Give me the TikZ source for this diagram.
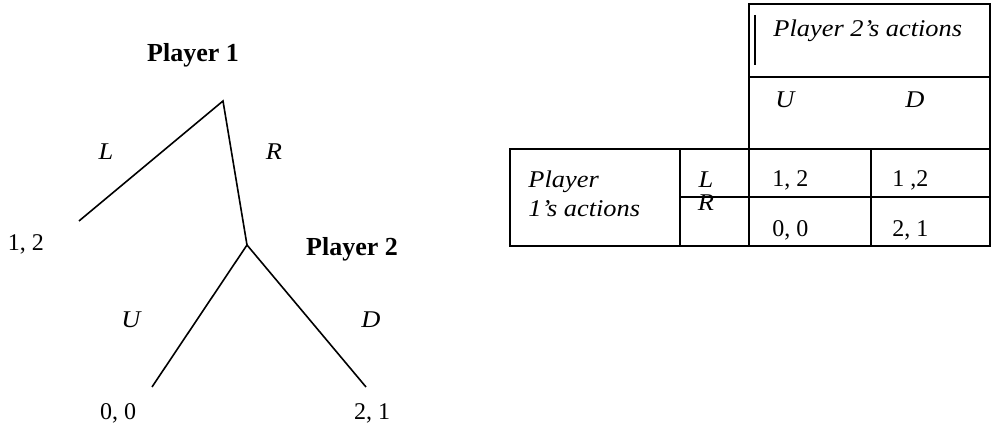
\documentclass[tikz,border=0pt]{standalone}
\usepackage{fontspec}
\usepackage{graphicx}
\setmainfont{Liberation Serif}[ItalicFont={Liberation Serif Italic},BoldFont={Liberation Serif Bold}]
\newcommand{\wi}[1]{\scalebox{1.1}[1]{\itshape #1}}
\begin{document}
\begin{tikzpicture}[x=0.5pt,y=-0.5pt,
  txt/.style={inner sep=0pt,font=\fontsize{12}{14.5}\selectfont},
  bld/.style={inner sep=0pt,font=\fontsize{13}{14.5}\selectfont\bfseries},
  branch/.style={line width=0.8pt},
  grid/.style={line width=0.6pt}]
\useasboundingbox (0,0) rectangle (991,431);
% tree
\coordinate (p1) at (223,101);
\coordinate (a) at (79,221);
\coordinate (p2) at (247,245);
\coordinate (b) at (152,387);
\coordinate (c) at (366,387);
\draw[branch] (a) -- (p1) -- (p2);
\draw[branch] (b) -- (p2) -- (c);
\node[bld] (pl1) at (193,55) {Player 1};
\node[txt] (lL) at (106,152) {\wi{L}};
\node[txt] (lR) at (274,152) {\wi{R}};
\node[txt] (pa) at (26,244) {1, 2};
\node[bld] (pl2) at (352,249) {Player 2};
\node[txt] (lU) at (131,320) {\wi{U}};
\node[txt] (lD) at (371,320) {\wi{D}};
\node[txt] (pb) at (118,413) {0, 0};
\node[txt] (pc) at (372,413) {2, 1};
% table
\draw[grid] (749,4) rectangle (990,149);
\draw[grid] (749,77) -- (990,77);
\draw[grid] (510,149) rectangle (990,246);
\draw[grid] (680,149) -- (680,246);
\draw[grid] (749,149) -- (749,246);
\draw[grid] (871,149) -- (871,246);
\draw[grid] (680,197) -- (990,197);
\draw[line width=0.6pt] (755,15) -- (755,65);
\node[txt,anchor=west] (h2) at (773,31) {\wi{Player 2's actions}};
\node[txt] (hU) at (785,100) {\wi{U}};
\node[txt] (hD) at (915,100) {\wi{D}};
\node[txt,anchor=west,align=left] (h1) at (528,194) {\wi{Player}\\\wi{1's actions}};
\node[txt] (rL) at (706,180) {\wi{L}};
\node[txt] (rR) at (706,203) {\wi{R}};
\node[txt,anchor=west] (c11) at (772,180) {1, 2};
\node[txt,anchor=west] (c12) at (892,180) {1 ,2};
\node[txt,anchor=west] (c21) at (772,230) {0, 0};
\node[txt,anchor=west] (c22) at (892,230) {2, 1};
\end{tikzpicture}
\end{document}
